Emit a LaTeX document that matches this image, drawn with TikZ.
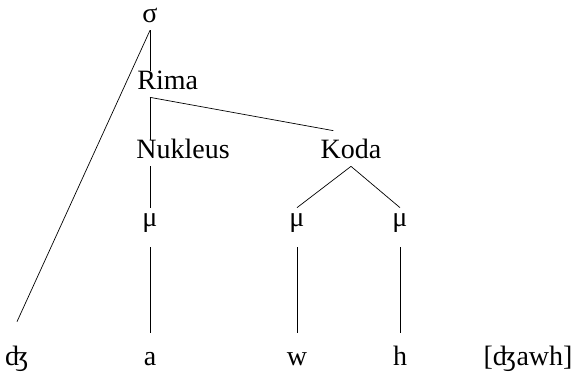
\documentclass[tikz,border=0pt]{standalone}
\usepackage{fontspec}
\setmainfont{Liberation Serif}

\begin{document}
\begin{tikzpicture}[x=1pt,y=-1pt,font=\fontsize{28}{32}\selectfont,line width=0.7pt,
        every node/.style={inner sep=0pt,text height=18pt,text depth=8pt},
        mora/.style={text depth=21pt},
        seg/.style={text height=32pt}]
            \useasboundingbox (0,0) rectangle (573,373);
            \node[anchor=base] (sigma) at (150,22) {σ};
            \node[anchor=base west] (rima) at (137,89) {Rima};
            \node[anchor=base west] (nukleus) at (136,158) {Nukleus};
            \node[anchor=base] (koda) at (351,158) {Koda};
            \node[anchor=base,mora] (mu1) at (150,226) {μ};
            \node[anchor=base,mora] (mu2) at (297,226) {μ};
            \node[anchor=base,mora] (mu3) at (400,226) {μ};
            \node[anchor=base,seg] (dz) at (17,365) {ʤ};
            \node[anchor=base,seg] (a) at (150,365) {a};
            \node[anchor=base,seg] (w) at (297,365) {w};
            \node[anchor=base,seg] (h) at (400,365) {h};
            \node[anchor=base] (ipa) at (528,365) {[ʤawh]};
            \draw (sigma.south) -- (sigma.south |- rima.north);
            \draw (sigma.south) -- ([yshift=11pt]dz.north);
            \draw (rima.south -| sigma.south) -- (nukleus.north -| sigma.south);
            \draw (rima.south -| sigma.south) -- ([xshift=13pt,yshift=9pt]koda.north west);
            \draw (nukleus.south -| mu1.north) -- (mu1.north);
            \draw (koda.south) -- (mu2.north);
            \draw (koda.south) -- (mu3.north);
            \draw (mu1.south) -- (a.north);
            \draw (mu2.south) -- (w.north);
            \draw (mu3.south) -- (h.north);
        \end{tikzpicture}
\end{document}
